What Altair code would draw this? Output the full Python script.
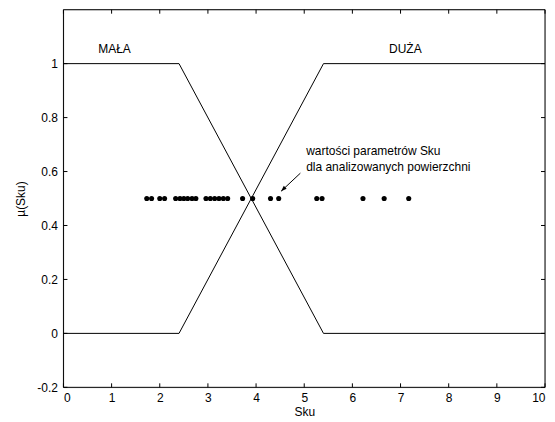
import altair as alt
import pandas as pd

# ---- data ----
x_pts = [0, 2.4, 5.4, 10]
mala = [1, 1, 0, 0]
duza = [0, 0, 1, 1]
sku_values = [1.73, 1.83, 2.00, 2.10, 2.33, 2.42, 2.50, 2.58, 2.67, 2.75,
              2.96, 3.05, 3.14, 3.23, 3.32, 3.41, 3.72, 3.93, 4.30, 4.47,
              5.26, 5.37, 6.22, 6.66, 7.17]
dot_level = 0.5
x_ticks = list(range(0, 11))
y_ticks = [-0.2, 0, 0.2, 0.4, 0.6, 0.8, 1]
set_labels = ["MAŁA", "DUŻA"]
set_label_x = [1.06, 7.1]
set_label_y = [1.055, 1.055]
note_lines = ["wartości parametrów Sku", "dla analizowanych powierzchni"]
note_x = [5.04, 5.04]
note_y = [0.677, 0.615]
arrow_x = [4.92, 4.52]
arrow_y = [0.594, 0.527]

W, H = 482, 378
FONT = "Liberation Sans"
FS = 12

xs = alt.Scale(domain=[0, 10], nice=False, zero=False)
ys = alt.Scale(domain=[-0.2, 1.2], nice=False, zero=False)

lines_df = pd.DataFrame({
    "x": x_pts * 2,
    "y": mala + duza,
    "set": ["MAŁA"] * 4 + ["DUŻA"] * 4,
})
dots_df = pd.DataFrame({"x": sku_values, "y": [dot_level] * len(sku_values)})
xt_df = pd.DataFrame({"x": x_ticks})
yt_df = pd.DataFrame({"y": y_ticks})
lab_df = pd.DataFrame({"x": set_label_x, "y": set_label_y, "txt": set_labels})
note_df = pd.DataFrame({"x": note_x, "y": note_y, "txt": note_lines})
arr_df = pd.DataFrame({"x": arrow_x, "y": arrow_y})
tip_df = pd.DataFrame({"x": [arrow_x[1]], "y": [arrow_y[1]]})

common = dict(tickSize=0, domain=False, grid=False,
              labelFont=FONT, labelFontSize=FS, labelColor="black",
              titleFont=FONT, titleFontSize=FS, titleFontWeight="normal",
              titleColor="black")
x_axis = alt.Axis(values=x_ticks, labelPadding=5, titlePadding=3,
                  labelExpr="toString(datum.value)", **common)
y_axis = alt.Axis(values=y_ticks, labelPadding=6, titlePadding=9,
                  labelExpr="toString(datum.value)", **common)

X = lambda: alt.X("x:Q", scale=xs, axis=x_axis, title="Sku")
Y = lambda: alt.Y("y:Q", scale=ys, axis=y_axis, title="µ(Sku)")

lines = alt.Chart(lines_df).mark_line(color="black", strokeWidth=1).encode(
    x=X(), y=Y(), detail="set:N")

dots = alt.Chart(dots_df).mark_circle(color="black", size=26, opacity=1).encode(
    x=X(), y=Y())

tb = alt.Chart(xt_df).mark_rule(color="black", strokeWidth=1).encode(
    x=X(), y=alt.value(H), y2=alt.value(H - 4))
tt = alt.Chart(xt_df).mark_rule(color="black", strokeWidth=1).encode(
    x=X(), y=alt.value(0), y2=alt.value(4))
tl = alt.Chart(yt_df).mark_rule(color="black", strokeWidth=1).encode(
    y=Y(), x=alt.value(0), x2=alt.value(4))
tr = alt.Chart(yt_df).mark_rule(color="black", strokeWidth=1).encode(
    y=Y(), x=alt.value(W - 4), x2=alt.value(W))

box = alt.Chart(pd.DataFrame({"b": [0]})).mark_rect(
    fill=None, filled=False, stroke="black", strokeWidth=1).encode(
    x=alt.value(0), x2=alt.value(W), y=alt.value(0), y2=alt.value(H))

labels = alt.Chart(lab_df).mark_text(font=FONT, fontSize=FS, color="black",
                                     align="center", baseline="middle").encode(
    x=X(), y=Y(), text="txt:N")

notes = alt.Chart(note_df).mark_text(font=FONT, fontSize=FS, color="black",
                                     align="left", baseline="middle").encode(
    x=X(), y=Y(), text="txt:N")

arrow_line = alt.Chart(arr_df).mark_line(color="black", strokeWidth=1).encode(
    x=X(), y=Y())

arrow_head = alt.Chart(tip_df).mark_point(
    shape="M0,0L0.36,1L-0.36,1Z", filled=True, color="black", opacity=1,
    size=130, angle=226, strokeWidth=0).encode(
    x=X(), y=Y())

chart = alt.layer(lines, dots, tb, tt, tl, tr, box, labels, notes, arrow_line, arrow_head).properties(
    width=W, height=H,
    autosize=alt.AutoSizeParams(type="none"),
    padding={"left": 55.5, "top": 1.5, "right": 2, "bottom": 30},
).configure_view(stroke=None).configure(background="white")

chart.save("out.html", embed_options={"renderer": "svg", "actions": False})
